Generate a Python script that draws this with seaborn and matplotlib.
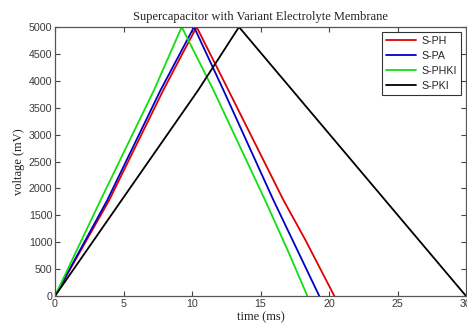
import pandas as pd
import matplotlib
matplotlib.use("Agg")
import matplotlib.pyplot as plt
import seaborn as sns

# values (time in ms, voltage in mV)
series_names = ['S-PH', 'S-PA', 'S-PHKI', 'S-PKI']

t_ph = [0, 3.96, 7.91, 9.25, 10.34, 12.65, 16.67, 18.25, 20.39]
v_ph = [0, 1784, 3829, 4480, 5000, 3829, 1784, 1054, 0]

t_pa = [0, 3.82, 7.71, 10.15, 12.29, 15.94, 19.29]
v_pa = [0, 1784, 3829, 5000, 3829, 1784, 0]

t_phki = [0, 3.33, 7.23, 9.25, 11.56, 15.33, 17.03, 18.42]
v_phki = [0, 1784, 3829, 5000, 3829, 1784, 823, 0]

t_pki = [0, 4.87, 10.46, 13.43, 30]
v_pki = [0, 1784, 3829, 5000, 0]

x_ticks = [0, 5, 10, 15, 20, 25, 30]
y_ticks = list(range(0, 5001, 500))

colors = ['#e00000', '#0000c8', '#10e010', '#000000']

# long table for seaborn
frames = []
for name, t, v in zip(series_names, [t_ph, t_pa, t_phki, t_pki], [v_ph, v_pa, v_phki, v_pki]):
    frames.append(pd.DataFrame({'time': t, 'voltage': v, 'series': name}))
df = pd.concat(frames, ignore_index=True)

sns.set_style('white')
plt.rcParams['font.family'] = ['Liberation Sans', 'DejaVu Sans']

fig = plt.figure(figsize=(4.67, 3.29), dpi=100)
ax = fig.add_axes([55 / 467, 1 - 296 / 329, 411 / 467, 269 / 329])

sns.lineplot(data=df, x='time', y='voltage', hue='series', hue_order=series_names,
             palette=colors, sort=False, estimator=None, units='series',
             lw=1.3, ax=ax)

ax.set_xlim(0, 30)
ax.set_ylim(0, 5000)
ax.set_xticks(x_ticks)
ax.set_yticks(y_ticks)
ax.tick_params(direction='in', length=3.5, width=0.8, color='#444444',
               labelsize=7.7, labelcolor='#3a3a3a', top=True, right=True,
               left=True, bottom=True, pad=2)
for s in ax.spines.values():
    s.set_color('#555555')
    s.set_linewidth(0.9)

serif = ['Liberation Serif', 'DejaVu Serif']
ax.set_xlabel('time (ms)', family=serif, fontsize=9, labelpad=2, color='#222222')
ax.set_ylabel('voltage (mV)', family=serif, fontsize=9, labelpad=3, color='#222222')
ax.set_title('Supercapacitor with Variant Electrolyte Membrane', family=serif,
             fontsize=9, pad=5, color='#222222')

leg = ax.legend(loc='upper right', fontsize=7.7, frameon=True, fancybox=False,
                edgecolor='black', handlelength=2.8, handletextpad=0.5,
                labelspacing=0.45, borderpad=0.4, borderaxespad=0.45)
leg.get_frame().set_linewidth(0.8)

fig.savefig('out.png', dpi=100)
